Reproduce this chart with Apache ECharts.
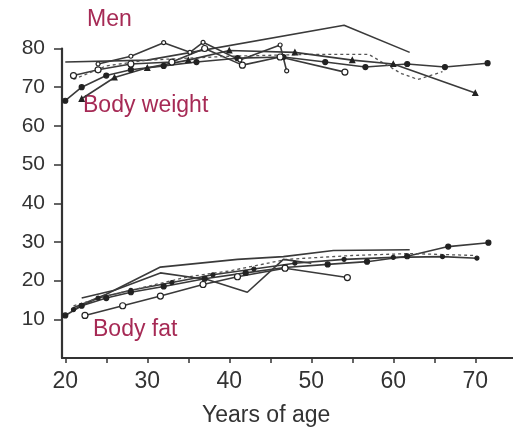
<!DOCTYPE html>
<html>
<head>
<meta charset="utf-8">
<script src="https://cdn.jsdelivr.net/npm/echarts@6/dist/echarts.min.js"></script>
<style>
  html, body { margin: 0; padding: 0; background: #fff; }
  #chart { width: 513px; height: 435px; }
</style>
</head>
<body>
<div id="chart"></div>
<script>
// Age ticks and labels
const xLabelValues = [20, 30, 40, 50, 60, 70];
const xTickValues = [20, 25, 30, 35, 40, 45, 50, 55, 60, 65, 70, 75];
const yTickValues = [10, 20, 30, 40, 50, 60, 70, 80];

// Body weight (kg) by age, one array per study
const weightA = [[20, 76.5], [30, 77], [54, 86], [62, 79]];
const weightB = [[20, 66.5], [22, 70], [25, 73], [28, 74.5], [32, 75.5], [36, 76.5], [41, 77.5], [46.6, 77.8], [51.7, 76.5], [56.6, 75.2], [61.7, 76], [66.3, 75.2], [71.5, 76.2]];
const weightC = [[21, 73], [24, 74.5], [28, 76], [33, 76.5], [37, 80], [41.6, 75.7], [46.2, 77.8], [54.1, 73.9]];
const weightD = [[21, 72], [25, 75.5], [30, 77], [40, 78], [50, 78.5], [57, 78.5], [61, 73.5], [63, 72], [66, 74]];
const weightE = [[22, 67], [26, 72.5], [30, 75], [35, 77], [40, 79.5], [48, 79], [55, 77], [60, 76], [70, 68.5]];
const weightF = [[24, 76], [28, 78], [32, 81.5], [35.2, 79], [36.8, 81.6], [41.3, 77], [46.2, 80.9], [47, 74.2]];

// Body fat (%) by age, one array per study
const fatA = [[20, 11], [22, 13.5], [25, 15.5], [28, 17], [32, 18.5], [37, 20.5], [42, 22], [46.8, 23.4], [52, 24.2], [56.8, 24.9], [61.7, 26.3], [66.7, 28.8], [71.6, 29.8]];
const fatB = [[21, 12.5], [24, 15.5], [28, 17.5], [33, 19.5], [38, 21.5], [43, 23], [48, 24.5], [54, 25.5], [60, 26], [66, 26.2], [70.2, 25.8]];
const fatC = [[21, 13], [25, 16.5], [31.6, 23.5], [41, 25.5], [46.6, 26.2], [52.7, 27.8], [62, 28]];
const fatD = [[22.4, 11], [27, 13.5], [31.6, 16], [36.8, 19], [41, 21], [46.8, 23.2], [54.4, 20.8]];
const fatE = [[21, 13.5], [25, 16], [30, 18.5], [35, 21], [40, 22.5], [47, 25.5], [55, 26.5], [62, 27], [70, 26.5]];
const fatF = [[22, 15.5], [26, 17.5], [31.6, 22], [37.3, 20.3], [42.2, 17], [46.6, 25.5], [50, 24.5]];

const ink = '#333';
const accent = '#a62a55';
const font = '"Liberation Sans", Arial, sans-serif';

function line(data, opts) {
  const o = opts || {};
  return {
    type: 'line',
    data: data,
    clip: false,
    silent: true,
    animation: false,
    symbol: o.symbol || 'none',
    symbolSize: o.size || 5,
    showSymbol: !!o.symbol,
    lineStyle: { color: o.color || '#3a3a3a', width: o.width || 1.6, type: o.dash ? [3, 3] : 'solid' },
    itemStyle: { color: o.fill || '#222', borderColor: '#222', borderWidth: 1.2 }
  };
}

const chart = echarts.init(document.getElementById('chart'));
chart.setOption({
  backgroundColor: '#fff',
  animation: false,
  grid: { left: 62, right: 0, top: 48.5, bottom: 77 },
  xAxis: {
    type: 'value',
    min: 19.6,
    max: 74.6,
    splitLine: { show: false },
    axisLine: { show: true, onZero: false, lineStyle: { color: ink, width: 2.2 } },
    axisTick: { show: true, length: 5, customValues: xTickValues, lineStyle: { color: ink, width: 1.5 } },
    axisLabel: { customValues: xLabelValues, color: ink, fontSize: 23, fontFamily: font, margin: 12 }
  },
  yAxis: {
    type: 'value',
    min: 0,
    max: 80,
    splitLine: { show: false },
    axisLine: { show: true, lineStyle: { color: ink, width: 2.2 } },
    axisTick: { show: true, length: 8, customValues: yTickValues, lineStyle: { color: ink, width: 1.5 } },
    axisLabel: { customValues: yTickValues, color: ink, fontSize: 21, fontFamily: font, margin: 17 }
  },
  graphic: [
    { type: 'text', left: 87, top: 8, style: { text: 'Men', fill: accent, font: '23px ' + font } },
    { type: 'text', left: 83, top: 94, style: { text: 'Body weight', fill: accent, font: '23px ' + font } },
    { type: 'text', left: 93, top: 318, style: { text: 'Body fat', fill: accent, font: '23px ' + font } },
    { type: 'text', left: 202, top: 404, style: { text: 'Years of age', fill: ink, font: '23px ' + font } }
  ],
  series: [
    line(weightA, { symbol: 'none' }),
    line(weightB, { symbol: 'circle', size: 5 }),
    line(weightC, { symbol: 'circle', size: 6, fill: '#fff' }),
    line(weightD, { dash: true, color: '#555', width: 1.3 }),
    line(weightE, { symbol: 'triangle', size: 5 }),
    line(weightF, { symbol: 'circle', size: 4, fill: '#fff' }),
    line(fatA, { symbol: 'circle', size: 5 }),
    line(fatB, { symbol: 'circle', size: 4 }),
    line(fatC, { symbol: 'none' }),
    line(fatD, { symbol: 'circle', size: 6, fill: '#fff' }),
    line(fatE, { dash: true, color: '#555', width: 1.3 }),
    line(fatF, { symbol: 'none' })
  ]
});
</script>
</body>
</html>
